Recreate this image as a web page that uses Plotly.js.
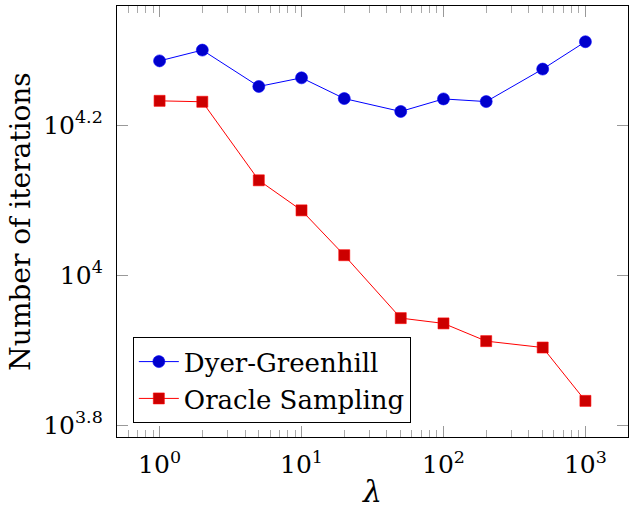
<!DOCTYPE html>
<html>
<head>
<meta charset="utf-8">
<script src="https://cdn.plot.ly/plotly-3.0.1.min.js"></script>
<style>html,body{margin:0;padding:0;background:#fff;}#chart{width:629px;height:516px;}</style>
</head>
<body>
<div id="chart"></div>
<script>
const lambdas = [1, 2, 5, 10, 20, 50, 100, 200, 500, 1000];
const dyerGreenhill = [19310, 19960, 17850, 18330, 17200, 16530, 17180, 17040, 18830, 20480];
const oracleSampling = [17080, 17030, 13380, 12200, 10630, 8762, 8621, 8164, 8005, 6795];
const xTickVals = [1, 10, 100, 1000];
const xTickText = ['10<sup>0</sup>', '10<sup>1</sup>', '10<sup>2</sup>', '10<sup>3</sup>'];
const yTickVals = [Math.pow(10, 3.8), 1e4, Math.pow(10, 4.2)];
const yTickText = ['10<sup>3.8</sup>', '10<sup>4</sup>', '10<sup>4.2</sup>'];
const xMinorVals = [];
[0.1, 1, 10, 100, 1000].forEach(d => { for (let k = 2; k <= 9; k++) xMinorVals.push(k * d); });

const FONT = 'DejaVu Serif';
const traces = [
  {x: lambdas, y: dyerGreenhill, name: 'Dyer-Greenhill', mode: 'lines+markers', type: 'scatter',
   line: {color: 'rgb(0,0,255)', width: 1},
   marker: {symbol: 'circle', size: 12, color: 'rgb(0,0,204)', line: {color: 'rgb(0,0,255)', width: 0.6}}},
  {x: lambdas, y: oracleSampling, name: 'Oracle Sampling', mode: 'lines+markers', type: 'scatter',
   line: {color: 'rgb(255,0,0)', width: 1},
   marker: {symbol: 'square', size: 11, color: 'rgb(204,0,0)', line: {color: 'rgb(255,0,0)', width: 0.6}}}
];
const layout = {
  width: 629, height: 516,
  margin: {l: 117, r: 1, t: 6, b: 79, pad: 0},
  paper_bgcolor: '#fff', plot_bgcolor: '#fff',
  font: {family: FONT, size: 25, color: '#000'},
  showlegend: true,
  legend: {x: 0.031, y: 0.032, xanchor: 'left', yanchor: 'bottom', bgcolor: '#fff',
           bordercolor: '#000', borderwidth: 1, font: {family: FONT, size: 26, color: '#000'},
           tracegroupgap: 0, itemwidth: 40},
  xaxis: {type: 'log', range: [-0.3, 3.3], showgrid: false, zeroline: false,
          showline: true, linecolor: '#000', linewidth: 1.2, mirror: 'allticks',
          ticks: 'inside', ticklen: 11, tickwidth: 1, tickcolor: '#999',
          tickmode: 'array', tickvals: xTickVals, ticktext: xTickText,
          tickfont: {family: FONT, size: 25}, ticklabelstandoff: 5,
          minor: {tickmode: 'array', tickvals: xMinorVals, ticks: 'inside', ticklen: 7, tickwidth: 1, tickcolor: '#aaa', showgrid: false},
          title: {text: '<i>λ</i>', font: {family: FONT, size: 30}, standoff: 2}},
  yaxis: {type: 'log', range: [3.784, 4.359], showgrid: false, zeroline: false,
          showline: true, linecolor: '#000', linewidth: 1.2, mirror: 'allticks',
          ticks: 'inside', ticklen: 11, tickwidth: 1, tickcolor: '#999',
          tickmode: 'array', tickvals: yTickVals, ticktext: yTickText,
          tickfont: {family: FONT, size: 25}, ticklabelstandoff: 8,
          title: {text: 'Number of iterations', font: {family: FONT, size: 28}, standoff: 4}}
};
Plotly.newPlot('chart', traces, layout, {displayModeBar: false, staticPlot: true});
</script>
</body>
</html>
